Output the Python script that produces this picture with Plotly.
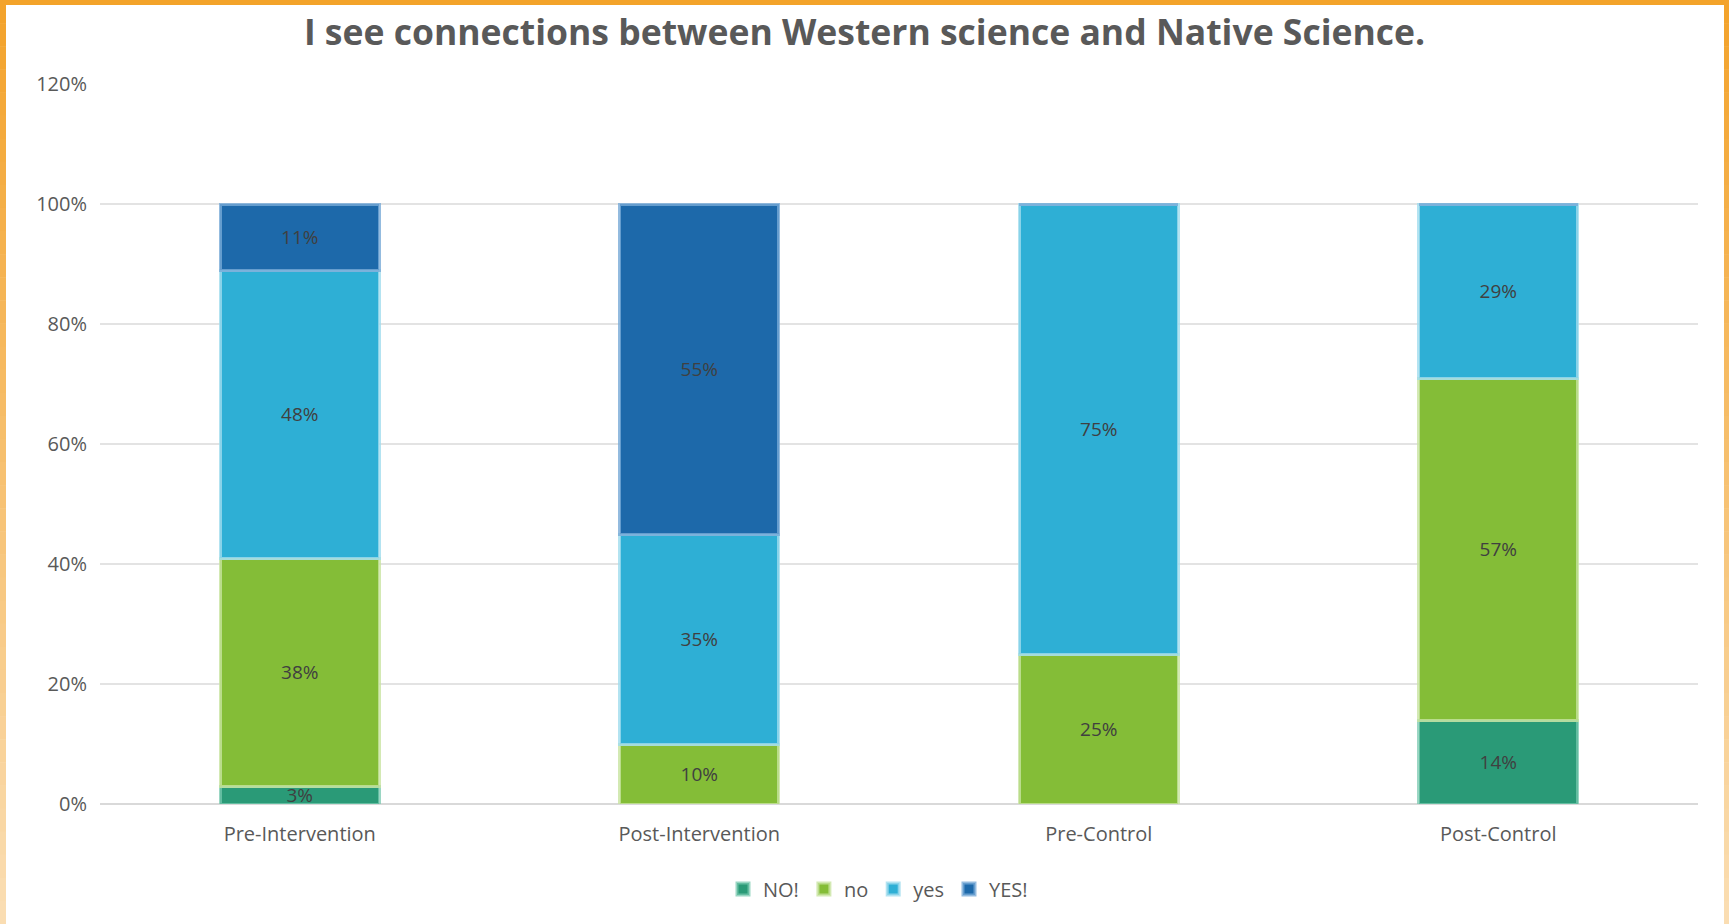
import plotly.graph_objects as go

# Survey responses, percent of students per group
groups = ["Pre-Intervention", "Post-Intervention", "Pre-Control", "Post-Control"]
no_strong = [3, 0, 0, 14]      # "NO!"
no_mild = [38, 10, 25, 57]     # "no"
yes_mild = [48, 35, 75, 29]    # "yes"
yes_strong = [11, 55, 0, 0]    # "YES!"

series = [
    ("NO!", no_strong, "#2A9A77", "rgba(120,200,175,0.75)"),
    ("no", no_mild, "#84BD37", "rgba(200,228,160,0.8)"),
    ("yes", yes_mild, "#2EAFD5", "rgba(160,220,238,0.8)"),
    ("YES!", yes_strong, "#1D69AA", "rgba(120,170,215,0.8)"),
]

W, H = 1729, 924
L, R, T, B = 100, 31, 84, 120
PW, PH = W - L - R, H - T - B

FONT = "Open Sans"
GREY = "#595959"

fig = go.Figure()
for name, vals, color, edge in series:
    fig.add_trace(go.Bar(
        name=name,
        x=groups,
        y=[v / 100 for v in vals],
        text=[f"{v}%" if v else "" for v in vals],
        textposition="inside",
        insidetextanchor="middle",
        constraintext="none",
        textfont=dict(family=FONT, size=19, color="#404040"),
        marker=dict(color=color, line=dict(color=edge, width=3)),
        width=0.398,
        hoverinfo="skip",
    ))


def px_x(p):
    return (p - L) / PW


def px_y(p):
    return (H - B - p) / PH


# Orange frame: solid top edge, side edges fading toward the bottom
shapes = [dict(type="rect", xref="paper", yref="paper",
               x0=px_x(0), x1=px_x(W), y0=px_y(0), y1=px_y(5),
               fillcolor="#F3A32A", line=dict(width=0), layer="below")]
top_rgb = (243, 162, 42)
bot_rgb = (250, 222, 180)
steps = 40
for i in range(steps):
    f = (i + 0.5) / steps
    c = tuple(round(a + (b - a) * f) for a, b in zip(top_rgb, bot_rgb))
    col = "rgb(%d,%d,%d)" % c
    y0p = H * i / steps
    y1p = H * (i + 1) / steps + 0.5
    for x0p, x1p in ((0, 6), (W - 5, W)):
        shapes.append(dict(type="rect", xref="paper", yref="paper",
                           x0=px_x(x0p), x1=px_x(x1p),
                           y0=px_y(y1p), y1=px_y(y0p),
                           fillcolor=col, line=dict(width=0), layer="below"))

fig.update_layout(
    width=W, height=H,
    margin=dict(l=L, r=R, t=T, b=B),
    paper_bgcolor="white",
    plot_bgcolor="white",
    barmode="stack",
    shapes=shapes,
    title=dict(
        text="I see connections between Western science and Native Science.",
        x=0.5, xref="container", xanchor="center",
        y=1 - 33 / H, yref="container", yanchor="middle",
        font=dict(family=FONT, size=35.5, color=GREY, weight="bold"),
    ),
    font=dict(family=FONT, color=GREY),
    legend=dict(
        orientation="h",
        x=px_x(878), xanchor="center",
        y=px_y(889), yanchor="middle",
        font=dict(family=FONT, size=20, color=GREY),
        traceorder="normal",
    ),
    xaxis=dict(
        showgrid=False,
        showline=False,
        tickfont=dict(family=FONT, size=20, color=GREY),
        ticklabelstandoff=16,
    ),
    yaxis=dict(
        range=[0, 1.2],
        dtick=0.2,
        tickformat=".0%",
        showgrid=True,
        gridcolor="#E3E3E3",
        gridwidth=2,
        zeroline=True,
        zerolinecolor="#D9D9D9",
        zerolinewidth=2,
        showline=False,
        tickfont=dict(family=FONT, size=20, color=GREY),
        ticklabelstandoff=12,
    ),
)

fig.write_html("out.html")
